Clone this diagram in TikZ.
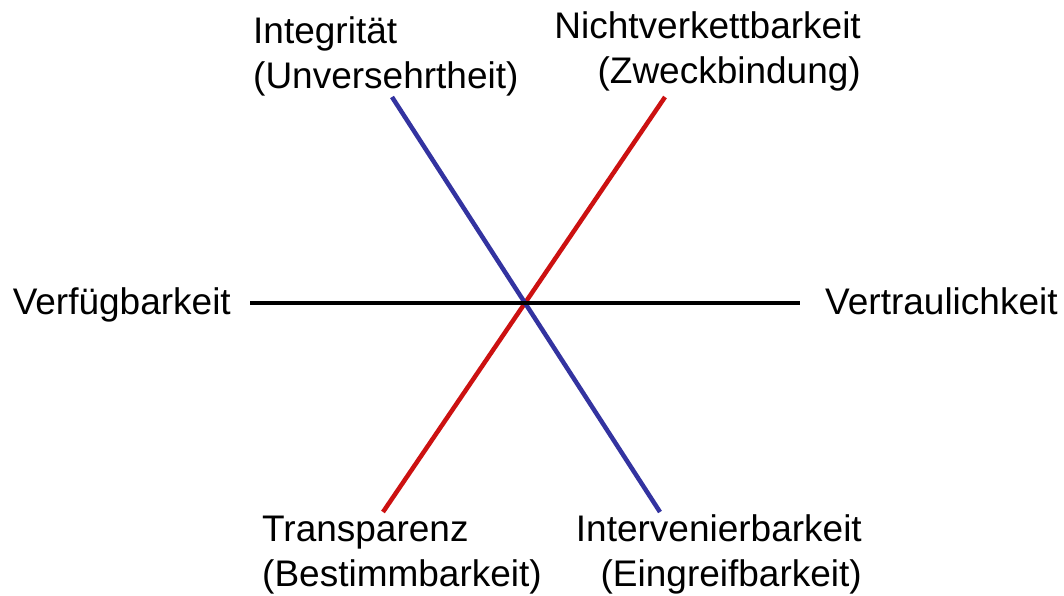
\documentclass[tikz,border=0pt]{standalone}
\usepackage{fontspec}
\setmainfont{Liberation Sans}
\definecolor{axblue}{RGB}{51,51,160}
\definecolor{axred}{RGB}{204,17,17}
\begin{document}
\begin{tikzpicture}[x=1pt,y=-1pt,
  lbl/.style={inner sep=0pt,font=\fontsize{37}{45}\selectfont},
  axis/.style={line width=4.5pt}]
\useasboundingbox (0,0) rectangle (1064,595);
\fill[white] (0,0) rectangle (1064,595);
% labels (anchor = baseline of last line)
\node[lbl,anchor=base west,align=left] (int) at (253,88) {Integrität\\(Unversehrtheit)};
\node[lbl,anchor=base east,align=right] (nv) at (861,83) {Nichtverkettbarkeit\\(Zweckbindung)};
\node[lbl,anchor=base west,align=left] (tr) at (262,586) {Transparenz\\(Bestimmbarkeit)};
\node[lbl,anchor=base east,align=right] (iv) at (862,586) {Intervenierbarkeit\\(Eingreifbarkeit)};
\node[lbl,anchor=base east] (vf) at (231,314) {Verfügbarkeit};
\node[lbl,anchor=base west] (vt) at (825,314) {Vertraulichkeit};
% axis ends
\coordinate (bA) at (392,97);
\coordinate (bB) at (660,512);
\coordinate (rA) at (665,97);
\coordinate (rB) at (383,512);
\coordinate (kA) at (250,303);
\coordinate (kB) at (800,303);
\draw[axis,axred] (rA) -- (rB);
\draw[axis,axblue] (bA) -- (bB);
\draw[axis,black] (kA) -- (kB);
\end{tikzpicture}
\end{document}
